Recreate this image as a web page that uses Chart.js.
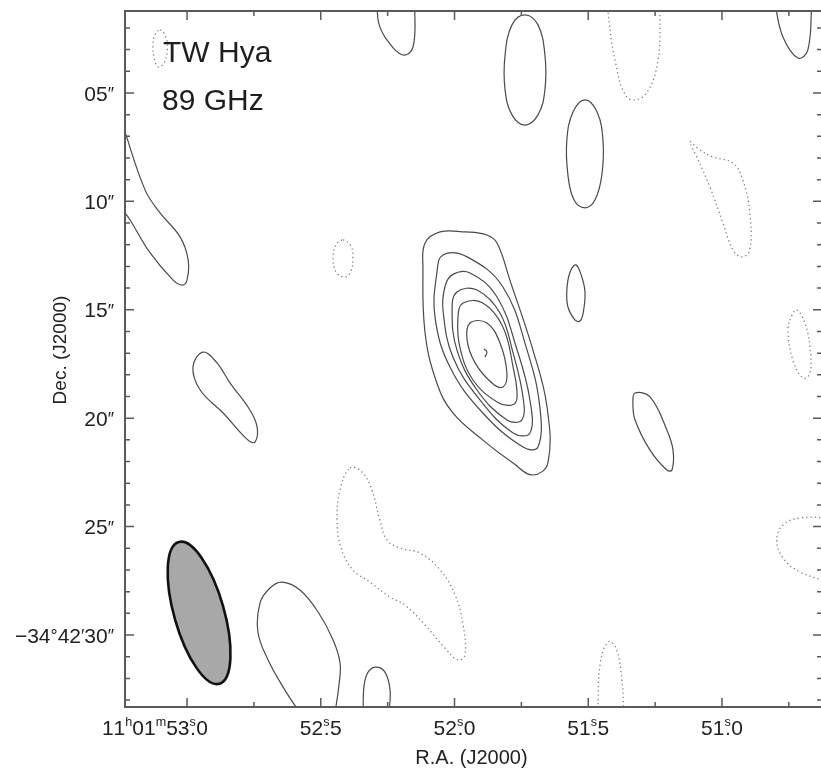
<!DOCTYPE html>
<html><head><meta charset="utf-8">
<script src="https://cdn.jsdelivr.net/npm/chart.js@4/dist/chart.umd.min.js"></script>
<style>html,body{margin:0;padding:0;background:#fff;overflow:hidden;width:821px;height:777px}canvas{display:block}</style>
</head><body><canvas id="c" width="824" height="777"></canvas>
<script>
// ---- axes (RA seconds of 11h01m, Dec arcsec of -34d42m) ----
const raMin = 50.626, raMax = 53.232;
const decMin = 1.22, decMax = 33.32;
const raMajorTicks = [53.0, 52.5, 52.0, 51.5, 51.0];
const raMinorTicks = [52.75, 52.25, 51.75, 51.25, 50.75];
const raTickLabels = ['11h01m53s0', '52s5', '52s0', '51s5', '51s0'];
const decMajorTicks = [5, 10, 15, 20, 25, 30];
const decMinorTicks = [2,3,4,6,7,8,9,11,12,13,14,16,17,18,19,21,22,23,24,26,27,28,29,31,32,33];
const decTickLabels = ['05″', '10″', '15″', '20″', '25″', '−34°42′30″'];
const beam = { ra: 52.955, dec: 28.98, major: 6.8, minor: 2.3, pa: 16 };
const titleLines = ['TW Hya', '89 GHz'];

// ---- contours: [RA s, Dec "] ----
const srcC1 = [[52.110,11.92],[52.054,11.41],[51.961,11.41],[51.879,11.55],[51.841,11.92],[51.793,13.63],[51.707,16.85],[51.654,19.48],[51.651,22.07],[51.707,22.62],[51.781,22.07],[51.894,21.01],[52.006,19.76],[52.066,18.38],[52.110,16.07],[52.118,13.03]];
const srcC2 = [[52.043,12.47],[51.953,12.56],[51.819,13.95],[51.729,16.85],[51.681,19.48],[51.688,21.33],[51.744,21.33],[51.894,19.76],[52.017,17.64],[52.073,15.33],[52.066,13.30]];
const srcC3 = [[52.009,13.39],[51.942,13.30],[51.841,14.41],[51.766,16.85],[51.718,19.16],[51.718,20.68],[51.781,20.68],[51.905,19.16],[52.006,17.18],[52.043,15.01],[52.036,13.95]];
const srcC4 = [[51.991,14.18],[51.916,14.09],[51.830,15.15],[51.781,16.99],[51.744,19.02],[51.748,20.08],[51.804,20.08],[51.916,18.70],[51.991,16.85],[52.009,15.01]];
const srcC5 = [[51.968,14.69],[51.894,14.69],[51.819,15.79],[51.781,17.64],[51.766,19.02],[51.785,19.39],[51.841,19.25],[51.931,18.24],[51.980,16.72],[51.987,15.33]];
const srcC6 = [[51.942,15.61],[51.879,15.61],[51.830,16.53],[51.804,17.92],[51.819,18.56],[51.860,18.38],[51.923,17.45],[51.953,16.39]];
const srcPeak = [[51.890,16.81],[51.879,16.95],[51.886,17.18]];
const posS1 = [[51.546,12.93],[51.524,13.49],[51.512,14.22],[51.519,15.15],[51.531,15.52],[51.550,15.47],[51.576,14.87],[51.580,14.09],[51.568,13.26]];
const posS2 = [[51.512,5.32],[51.467,5.88],[51.445,7.17],[51.449,8.78],[51.475,9.94],[51.512,10.30],[51.553,9.94],[51.576,8.78],[51.580,7.17],[51.557,5.88]];
const posS3 = [[51.737,1.40],[51.688,1.86],[51.662,3.25],[51.662,4.86],[51.688,6.01],[51.737,6.48],[51.785,6.01],[51.811,4.86],[51.811,3.25],[51.785,1.86]];
const posS4 = [[52.290,0.9],[52.283,1.8],[52.252,2.56],[52.193,3.25],[52.155,2.88],[52.148,0.9]];
const posS5 = [[50.802,0.9],[50.772,2.42],[50.716,3.39],[50.679,3.02],[50.664,0.9]];
const posL1 = [[53.24,6.5],[53.157,9.47],[53.101,10.53],[53.026,11.64],[52.996,12.70],[53.000,13.63],[53.019,13.86],[53.052,13.63],[53.138,12.38],[53.213,10.86],[53.24,10.4]];
const posL2 = [[52.940,16.95],[52.888,17.45],[52.839,18.38],[52.765,19.62],[52.738,20.41],[52.746,21.10],[52.772,21.01],[52.865,19.76],[52.951,18.70],[52.978,17.64]];
const posR1 = [[51.325,18.84],[51.269,19.02],[51.206,20.54],[51.183,21.47],[51.187,22.39],[51.206,22.39],[51.269,21.47],[51.325,20.08],[51.333,19.30]];
const posB1 = [[52.578,33.6],[52.634,32.54],[52.697,31.15],[52.735,29.86],[52.727,28.52],[52.690,27.83],[52.645,27.56],[52.578,27.92],[52.510,28.94],[52.454,30.23],[52.428,31.29],[52.432,32.31],[52.447,33.6]];
const posB2 = [[52.342,33.6],[52.338,32.31],[52.323,31.71],[52.294,31.48],[52.260,31.71],[52.241,32.54],[52.245,33.6]];
const negD1 = [[51.430,0.9],[51.400,3.48],[51.352,5.23],[51.288,5.09],[51.239,3.48],[51.232,0.9]];
const negD2 = [[53.101,2.09],[53.078,2.46],[53.074,3.02],[53.086,3.62],[53.108,3.80],[53.123,3.39],[53.127,2.79],[53.120,2.32]];
const negD3 = [[52.417,11.78],[52.387,12.06],[52.380,12.61],[52.387,13.21],[52.409,13.49],[52.443,13.26],[52.454,12.61],[52.443,12.01]];
const negD4 = [[51.120,7.26],[51.082,7.63],[51.034,7.95],[50.959,8.23],[50.922,9.01],[50.896,10.53],[50.896,12.24],[50.925,12.56],[50.959,12.24],[50.996,11.00],[51.045,9.34],[51.094,7.95]];
const negD5 = [[50.720,15.01],[50.690,15.61],[50.671,16.72],[50.671,17.92],[50.697,18.15],[50.735,17.31],[50.753,15.93],[50.738,15.24]];
const negD6 = [[52.391,22.30],[52.346,22.48],[52.309,23.31],[52.279,24.70],[52.252,25.62],[52.204,25.99],[52.129,26.22],[52.054,27.00],[51.998,28.15],[51.968,29.54],[51.961,30.92],[51.987,31.15],[52.036,30.60],[52.110,29.54],[52.185,28.62],[52.241,28.25],[52.316,27.56],[52.380,27.00],[52.424,25.99],[52.439,24.70],[52.428,23.31]];
const negD7 = [[51.464,33.6],[51.456,31.38],[51.426,30.32],[51.396,30.60],[51.374,32.08],[51.367,33.6]];
const negD8 = [[50.60,24.60],[50.708,24.60],[50.772,24.93],[50.795,25.62],[50.772,26.45],[50.708,27.09],[50.60,27.56]];

const contourList = [
  [srcC1,false,true],[srcC2,false,true],[srcC3,false,true],[srcC4,false,true],[srcC5,false,true],[srcC6,false,true],[srcPeak,false,false],
  [posS1,false,true],[posS2,false,true],[posS3,false,true],[posS4,false,false],[posS5,false,false],
  [posL1,false,false],[posL2,false,true],[posR1,false,true],[posB1,false,false],[posB2,false,false],
  [negD1,true,false],[negD2,true,true],[negD3,true,true],[negD4,true,true],[negD5,true,true],[negD6,true,true],[negD7,true,false],[negD8,true,false]
];

const datasets = contourList.map(([pts, neg, closed]) => ({
  data: pts.map(p => ({x: p[0], y: p[1]})),
  showLine: true,
  closed: closed,
  borderColor: neg ? '#808080' : '#4a4a4a',
  borderWidth: neg ? 1.3 : 1.2,
  borderDash: neg ? [1.3, 3] : [],
  tension: 0.4,
  pointRadius: 0,
  fill: false
}));

const FF = '"Liberation Sans", Arial, Helvetica, sans-serif';
function fnt(s){ return s.toFixed(1) + 'px ' + FF; }
function layoutRich(ctx, str, size){
  const toks = []; let w = 0;
  for (const ch of str){
    let font = fnt(size), dy = 0;
    if ('hms'.includes(ch)){ font = fnt(size*0.6); dy = -size*0.45; }
    else if ('°′″'.includes(ch)){ font = fnt(size*0.85); dy = -size*0.03; }
    ctx.font = font;
    let adv = ctx.measureText(ch).width;
    if (ch === 's'){ ctx.font = fnt(size); adv = Math.max(adv, ctx.measureText('.').width) + 0.5; }
    toks.push({ch, font, dy, x: w}); w += adv;
  }
  return {toks, w};
}
function drawRich(ctx, lay, x0, base, size){
  for (const t of lay.toks){
    ctx.font = t.font; ctx.fillText(t.ch, x0 + t.x, base + t.dy);
    if (t.ch === 's'){ ctx.font = fnt(size); ctx.fillText('.', x0 + t.x + 0.5, base); }
  }
}

const radioPlugin = {
  id: 'radio',
  afterDatasetUpdate(chart, args){
    const ds = chart.data.datasets[args.index];
    const line = args.meta.dataset;
    if (ds.closed && line){ line._loop = true; line._fullLoop = true; line._segments = undefined; line._pointsUpdated = false; }
  },
  afterDatasetsDraw(chart){
    const ctx = chart.ctx, xs = chart.scales.x, ys = chart.scales.y;
    const cx = xs.getPixelForValue(beam.ra), cy = ys.getPixelForValue(beam.dec);
    const k = Math.abs(ys.getPixelForValue(1) - ys.getPixelForValue(0));
    ctx.save();
    ctx.beginPath();
    ctx.ellipse(cx, cy, beam.minor/2*k, beam.major/2*k, -beam.pa*Math.PI/180, 0, 2*Math.PI);
    ctx.fillStyle = '#a8a8a8'; ctx.fill();
    ctx.lineWidth = 2.6; ctx.strokeStyle = '#111'; ctx.stroke();
    ctx.restore();
  },
  afterDraw(chart){
    const ctx = chart.ctx, xs = chart.scales.x, ys = chart.scales.y, a = chart.chartArea;
    ctx.save();
    // frame
    ctx.strokeStyle = '#5a5a5a'; ctx.lineWidth = 2;
    ctx.strokeRect(a.left, a.top, a.right - a.left, a.bottom - a.top);
    ctx.lineWidth = 1.5;
    ctx.beginPath();
    const tx = (v, len) => { const p = xs.getPixelForValue(v); ctx.moveTo(p, a.bottom); ctx.lineTo(p, a.bottom - len); ctx.moveTo(p, a.top); ctx.lineTo(p, a.top + len); };
    const ty = (v, len) => { const p = ys.getPixelForValue(v); ctx.moveTo(a.left, p); ctx.lineTo(a.left + len, p); ctx.moveTo(a.right, p); ctx.lineTo(a.right - len, p); };
    raMajorTicks.forEach(v => tx(v, 9)); raMinorTicks.forEach(v => tx(v, 5));
    decMajorTicks.forEach(v => ty(v, 9)); decMinorTicks.forEach(v => ty(v, 5));
    ctx.stroke();
    // tick labels
    ctx.fillStyle = '#222'; ctx.textAlign = 'left'; ctx.textBaseline = 'alphabetic';
    const ls = 21;
    decMajorTicks.forEach((v, i) => {
      const lay = layoutRich(ctx, decTickLabels[i], ls);
      const py = ys.getPixelForValue(v);
      drawRich(ctx, lay, 114 - lay.w, py + ls*0.36, ls);
    });
    raMajorTicks.forEach((v, i) => {
      const str = raTickLabels[i];
      const lay = layoutRich(ctx, str, ls);
      const mi = str.indexOf('m');
      const ax = mi >= 0 ? lay.toks[mi + 1].x : 0;
      const px = xs.getPixelForValue(v);
      drawRich(ctx, lay, px - ax - (lay.w - ax)/2, 735, ls);
    });
    // axis titles
    ctx.font = fnt(20); ctx.textAlign = 'center';
    ctx.fillText('R.A. (J2000)', (a.left + a.right)/2 - 2, 764);
    ctx.save(); ctx.translate(66, 350); ctx.rotate(-Math.PI/2);
    ctx.font = fnt(19); ctx.fillText('Dec. (J2000)', 0, 0); ctx.restore();
    // annotation
    ctx.textAlign = 'left'; ctx.font = fnt(30); ctx.fillStyle = '#1e1e1e';
    ctx.fillText(titleLines[0], 163, 62);
    ctx.fillText(titleLines[1], 162, 110);
    ctx.restore();
  }
};

new Chart(document.getElementById('c'), {
  type: 'scatter',
  data: { datasets },
  options: {
    responsive: false, animation: false, devicePixelRatio: 1, events: [],
    layout: { padding: { left: 125, top: 11, right: 2, bottom: 70 } },
    plugins: { legend: { display: false }, tooltip: { enabled: false } },
    scales: {
      x: { type: 'linear', reverse: true, min: raMin, max: raMax, display: false },
      y: { type: 'linear', reverse: true, min: decMin, max: decMax, display: false }
    }
  },
  plugins: [radioPlugin]
});
</script>
</body></html>
